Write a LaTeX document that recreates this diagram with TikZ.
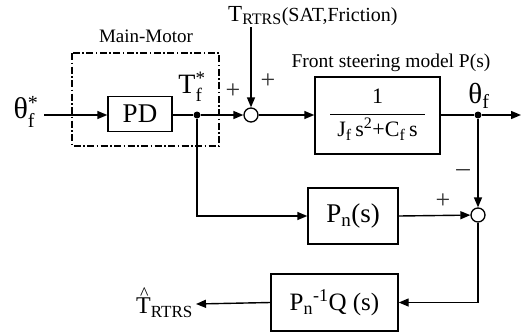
\documentclass[tikz,border=0pt]{standalone}
\usepackage{fontspec}
\usepackage{amsmath}
\setmainfont{Liberation Serif}
\usetikzlibrary{arrows.meta}
\newcommand{\fs}[1]{\fontsize{#1}{#1}\selectfont}
\newcommand{\ssb}[3]{\ensuremath{_{\text{\fs{#3}#1}}^{\text{\fs{#3}#2}}}}
\begin{document}
\begin{tikzpicture}[x=1pt,y=-1pt,
  blk/.style={draw,line width=1.4pt,inner sep=0pt,minimum width=#1},
  sumc/.style={draw,circle,line width=1.3pt,minimum size=14pt,inner sep=0pt,fill=white},
  dotn/.style={circle,fill=black,minimum size=7pt,inner sep=0pt},
  conn/.style={line width=1.4pt},
  arr/.style={conn,-{Triangle[length=10pt,width=8pt]}},
  lbl/.style={inner sep=0pt},
  sgn/.style={inner sep=0pt,text=black!80}]
\useasboundingbox (0,0) rectangle (521,335);
% dash-dot box
\draw[line width=1.4pt,dash pattern=on 7pt off 2.5pt on 1.5pt off 2.5pt] (72,53) rectangle (219,146);
\node[lbl] (mm) at (146,36) {\fs{19}Main-Motor};
% nodes
\node[lbl] (thin) at (26,112) {\fs{30}θ\ssb{f}{*}{20}};
\node[blk=64pt,minimum height=35pt] (pd) at (140,114) {\fs{27}PD};
\node[dotn] (d1) at (197,115) {};
\node[sumc] (s1) at (251,115) {};
\node[lbl,anchor=base west] (trtrs) at (228,21) {\fs{23}T\textsubscript{\fs{16}RTRS}\fs{20}(SAT,Friction)};
\coordinate (ttop) at (251,27);
\node[blk=125pt,minimum height=77pt] (ps) at (377.5,115.5) {\raisebox{-3pt}{\fs{22}\begin{tabular}{@{\hspace{7pt}}c@{\hspace{7pt}}}1\\[4pt]\hline\rule{0pt}{22pt}J\textsubscript{\fs{16}f}\,s\textsuperscript{\fs{16}2}+C\textsubscript{\fs{16}f}\,s\end{tabular}}};
\node[lbl] (psl) at (391,63) {\fs{19.5}Front steering model P(s)};
\node[dotn] (d2) at (478,115) {};
\coordinate (out) at (521,115);
\node[lbl] (thf) at (479,96) {\fs{29}θ\textsubscript{\fs{20}f}};
\node[sumc] (s2) at (478,215) {};
\node[blk=90pt,minimum height=56pt] (pn) at (353,216) {\fs{27}P\textsubscript{\fs{19}n}(s)};
\node[blk=127pt,minimum height=57pt] (q) at (334.5,302.5) {\fs{25}P\textsubscript{\fs{18}n}\textsuperscript{\fs{18}-1}Q (s)};
\node[lbl,anchor=east] (that) at (193,303) {\fs{24}\rlap{\raisebox{14pt}{\hspace{4pt}\fs{18}\^{}}}T\textsubscript{\fs{17}RTRS}};
\coordinate (tend) at (196,304);
\node[lbl] (tfs) at (192,87) {\fs{28}T\ssb{f}{*}{19}};
% signs
\node[sgn] (p1) at (233,91) {\fs{26}+};
\node[sgn] (p2) at (268,81) {\fs{26}+};
\node[sgn] (m1) at (463,173) {\fs{27}–};
\node[sgn] (p3) at (443,201) {\fs{26}+};
% connectors
\draw[arr] (44,115) -- (pd.west |- 0,115);
\draw[conn] (pd.east |- d1) -- (d1);
\draw[arr] (d1) -- (s1);
\draw[arr] (ttop) -- (s1);
\draw[arr] (s1) -- (ps.west |- s1);
\draw[conn] (ps.east |- d2) -- (d2);
\draw[arr] (d2) -- (out);
\draw[arr] (d2) -- (s2);
\draw[arr] (d1) |- (pn.west);
\draw[arr] (pn.east) -- (s2);
\draw[arr] (s2) |- (q.east);
\draw[arr] (q.west) -- (tend);
\end{tikzpicture}
\end{document}
